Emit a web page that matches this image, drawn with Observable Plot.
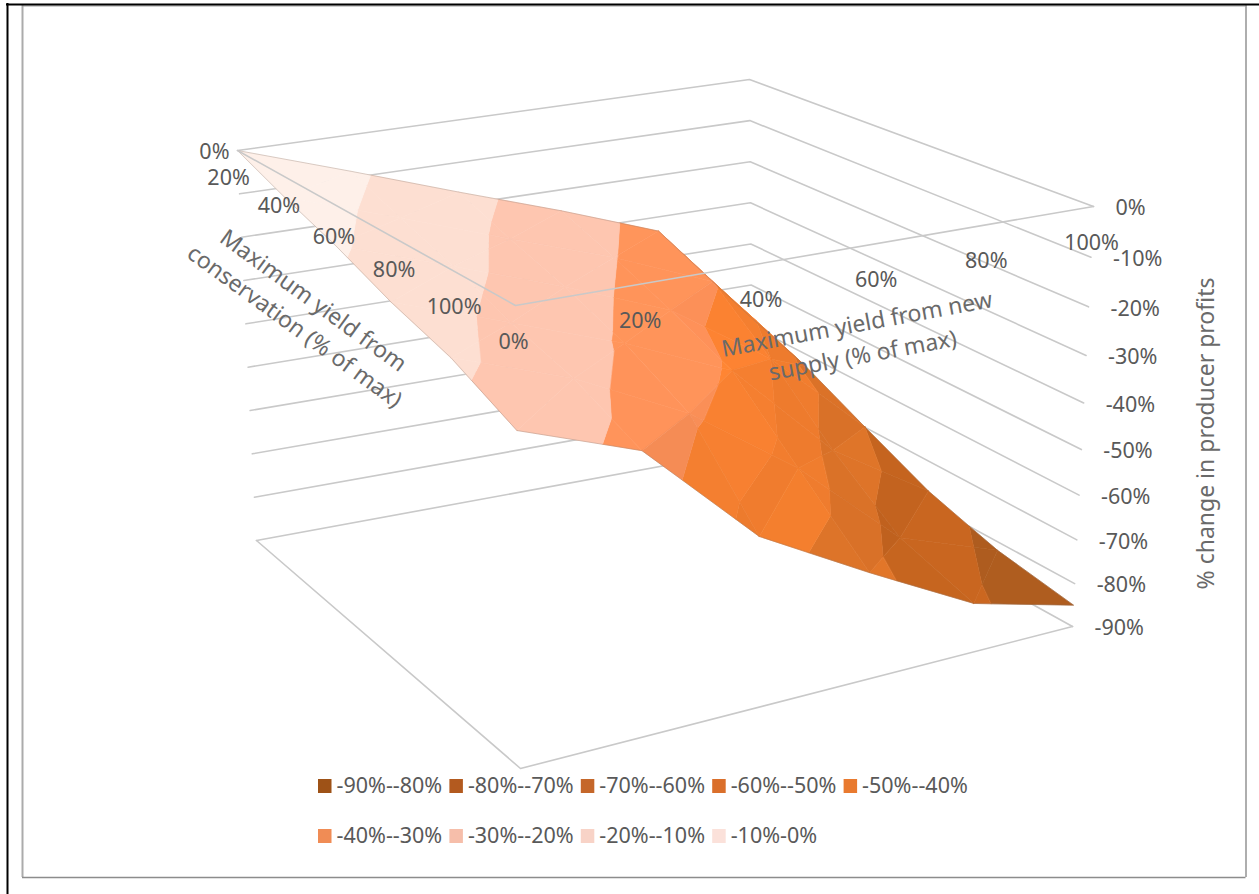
<!DOCTYPE html>
<html>
<head>
<meta charset="utf-8">
<style>
  html, body { margin: 0; padding: 0; background: #fff; }
  svg { display: block; }
</style>
<script src="https://cdn.jsdelivr.net/npm/d3@7"></script>
<script src="https://cdn.jsdelivr.net/npm/@observablehq/plot@0.6"></script>
</head>
<body>
<div id="chart"></div>
<script>
// Axis categories of the surface: share of maximum yield on each side.
const conservationLevels = [0, 20, 40, 60, 80, 100];
const supplyLevels = [0, 20, 40, 60, 80, 100];
const profitLevels = [0, -10, -20, -30, -40, -50, -60, -70, -80, -90];

// % change in producer profits; one row per conservation level, one column per supply level.
const profitAtConservation0 = [0, -8.5, -17, -25, -33.4, -58];
const profitAtConservation20 = [-4.7, -13.2, -21.7, -29.7, -39, -63];
const profitAtConservation40 = [-8.9, -17.4, -25.9, -35, -50, -70];
const profitAtConservation60 = [-14, -22.5, -31, -41, -63, -77];
const profitAtConservation80 = [-18, -26.5, -38, -54, -74, -82];
const profitAtConservation100 = [-24.3, -32.7, -54.5, -67, -79, -85];
const profitGrid = [
  profitAtConservation0, profitAtConservation20, profitAtConservation40,
  profitAtConservation60, profitAtConservation80, profitAtConservation100
];

// Colour bands of the surface, legend swatches and labels.
const bandLabels = ["-90%--80%", "-80%--70%", "-70%--60%", "-60%--50%", "-50%--40%", "-40%--30%", "-30%--20%", "-20%--10%", "-10%-0%"];
const bandLow = [-90, -80, -70, -60, -50, -40, -30, -20, -10];
const bandSurface = ["#aa5a1e", "#c5641f", "#e07529", "#f7802f", "#fe8432", "#ff9259", "#fec6b0", "#fddfd2", "#fef0e9"];
const bandSwatch = ["#9e5217", "#b35a1f", "#c5672a", "#da6f2b", "#e97a2f", "#f08c55", "#f6beaa", "#f8d3c7", "#fbe1da"];

// Screen corners of the perspective box, top plane and floor.
const cornerLeft = { top: [237, 150], floor: [256, 540] };   // conservation 0, supply 0
const cornerFront = { top: [515, 305], floor: [520, 768] };  // conservation 100, supply 0
const cornerRight = { top: [1093, 206], floor: [1072, 626] };// conservation 100, supply 100
const cornerBack = { top: [749, 79], floor: [752, 449] };    // conservation 0, supply 100
const foreshorten = { conservation: 1.25, supply: 0.89 };

const persp = (t, k) => t / (t + k * (1 - t));
const mix = (a, b, t) => [a[0] + (b[0] - a[0]) * t, a[1] + (b[1] - a[1]) * t];

// Projects conservation %, supply % and profit % to screen pixels.
function project(c, s, z) {
  const u = persp(c / 100, foreshorten.conservation);
  const v = persp(s / 100, foreshorten.supply);
  const w = persp(-z / 90, 1 - 0.09 * u * v);
  const top = mix(mix(cornerLeft.top, cornerFront.top, u), mix(cornerBack.top, cornerRight.top, u), v);
  const floor = mix(mix(cornerLeft.floor, cornerFront.floor, u), mix(cornerBack.floor, cornerRight.floor, u), v);
  return mix(top, floor, w);
}

// Clips a polygon of [c, s, z] vertices against one profit level.
function clipZ(poly, level, keepAbove) {
  const out = [];
  const inside = (p) => keepAbove ? p[2] >= level : p[2] <= level;
  poly.forEach((p, i) => {
    const q = poly[(i + 1) % poly.length];
    if (inside(p)) out.push(p);
    if (inside(p) !== inside(q)) {
      const t = (level - p[2]) / (q[2] - p[2]);
      out.push([p[0] + (q[0] - p[0]) * t, p[1] + (q[1] - p[1]) * t, level]);
    }
  });
  return out;
}

// Facet brightness from the slope of the triangle, as a soft light on the surface.
function facetShade(tri) {
  const [a, b, d] = tri;
  const ux = b[0] - a[0], uy = b[1] - a[1], uz = b[2] - a[2];
  const vx = d[0] - a[0], vy = d[1] - a[1], vz = d[2] - a[2];
  const nx = uy * vz - uz * vy, ny = uz * vx - ux * vz, nz = ux * vy - uy * vx;
  const len = Math.hypot(nx, ny, nz) || 1;
  const tilt = Math.abs(nz) / len;
  return (tilt - 0.8) * 0.55;
}

// Surface pieces, far cells first so nearer facets paint over them.
const surfaceRows = [];
let pieceId = 0;
conservationLevels.slice(0, -1).forEach((c0, i) => {
  for (let j = supplyLevels.length - 2; j >= 0; j--) {
    const c1 = conservationLevels[i + 1], s0 = supplyLevels[j], s1 = supplyLevels[j + 1];
    const a = [c0, s0, profitGrid[i][j]], b = [c0, s1, profitGrid[i][j + 1]];
    const d = [c1, s1, profitGrid[i + 1][j + 1]], e = [c1, s0, profitGrid[i + 1][j]];
    for (const tri of [[a, b, e], [b, d, e]]) {
      const shade = facetShade(tri);
      bandLow.forEach((low, k) => {
        const piece = clipZ(clipZ(tri, low, true), low + 10, false);
        if (piece.length < 3) return;
        const base = d3.rgb(bandSurface[k]);
        const amount = k >= 6 ? 0 : shade;
        const tone = amount >= 0 ? base.brighter(amount) : base.darker(-amount);
        const fill = tone.formatHex();
        pieceId++;
        for (const p of piece) {
          const [x, y] = project(p[0], p[1], p[2]);
          surfaceRows.push({ x, y, id: pieceId, fill });
        }
      });
    }
  }
});

// Thin rim around the surface.
const surfaceRim = [
  ...supplyLevels.map((s, j) => ({ c: 0, s, z: profitGrid[0][j], id: 0 })),
  ...conservationLevels.map((c, i) => ({ c, s: 100, z: profitGrid[i][5], id: 0 })),
  ...supplyLevels.map((s, j) => ({ c: 100, s, z: profitGrid[5][j], id: 0 })).reverse(),
  ...conservationLevels.map((c, i) => ({ c, s: 0, z: profitGrid[i][0], id: 0 })).reverse()
];

// Wall gridlines: each profit level runs along the back two walls of the box.
const wallRows = profitLevels.flatMap((z, i) => [
  { c: 0, s: 0, z, id: i }, { c: 0, s: 100, z, id: i }, { c: 100, s: 100, z, id: i }
]);
// Top and floor outlines at the front of the box.
const frontOutline = (z, id) => [
  { c: 0, s: 0, z, id }, { c: 100, s: 0, z, id }, { c: 100, s: 100, z, id }
];

const px = (d) => project(d.c, d.s, d.z)[0];
const py = (d) => project(d.c, d.s, d.z)[1];

const gridStyle = { x: px, y: py, z: "id", stroke: "#c9c9c9", strokeWidth: 1.6 };
const labelFont = { fontFamily: "'Noto Sans', sans-serif", fill: "#595959" };
const titleFont = { fontFamily: "'Noto Sans', sans-serif", fill: "#6a6a6a" };

const legendRows = bandLabels.map((label, i) => ({
  label, swatch: bandSwatch[i],
  col: i < 5 ? i : i - 5,
  row: i < 5 ? 0 : 1
}));
const legendLeft = (d) => 318 + d.col * 131.4;
const legendTop = (d) => 779 + d.row * 50;

const chart = Plot.plot({
  width: 1259,
  height: 894,
  margin: 0,
  axis: null,
  x: { type: "identity" },
  y: { type: "identity" },
  color: { type: "identity" },
  marks: [
    // Outer frame of the chart area.
    Plot.ruleX([22], { y1: 5, y2: 877, stroke: "#ababab", strokeWidth: 2 }),
    Plot.ruleX([1245.5], { y1: 5, y2: 877, stroke: "#8c8c8c", strokeWidth: 1.4 }),
    Plot.ruleY([877], { x1: 22, x2: 1245.5, stroke: "#8c8c8c", strokeWidth: 1.6 }),
    Plot.ruleY([5.5], { x1: 22, x2: 1245.5, stroke: "#a0a0a0", strokeWidth: 1.2 }),
    Plot.ruleX([7], { y1: 3, y2: 894, stroke: "#000", strokeWidth: 2 }),
    Plot.ruleY([4], { x1: 6, x2: 1259, stroke: "#000", strokeWidth: 2 }),

    // Walls and floor behind the surface.
    Plot.line(wallRows, gridStyle),
    Plot.line(frontOutline(-90, 0), gridStyle),

    // The surface itself.
    Plot.line(surfaceRows, {
      x: "x", y: "y", z: "id", fill: "fill", stroke: "fill", strokeWidth: 0.6, curve: "linear-closed"
    }),
    Plot.line(surfaceRim, { x: px, y: py, stroke: "#8a7468", strokeOpacity: 0.55, strokeWidth: 0.6 }),

    // Top outline passes in front of the surface.
    Plot.line(frontOutline(0, 0), gridStyle),

    // Tick labels on the three axes.
    Plot.text(conservationLevels, {
      x: (c) => project(c, 0, 0)[0] + (c === 0 ? -8 : -34), y: (c) => project(c, 0, 0)[1],
      text: (c) => `${c}%`, textAnchor: "end", dy: 2, fontSize: 21.5, ...labelFont
    }),
    Plot.text(supplyLevels, {
      x: (s) => project(100, s, 0)[0], y: (s) => project(100, s, 0)[1],
      text: (s) => `${s}%`, dx: -2, dy: 37, fontSize: 21.5, ...labelFont
    }),
    Plot.text(profitLevels, {
      x: (z) => project(100, 100, z)[0], y: (z) => project(100, 100, z)[1],
      text: (z) => `${z}%`, textAnchor: "start", dx: 22, dy: 2, fontSize: 21.5, ...labelFont
    }),

    // Axis titles.
    Plot.text(["Maximum yield from\nconservation (% of max)"], {
      x: () => 305, y: () => 311, rotate: 36, fontSize: 23, lineHeight: 1.38, ...titleFont
    }),
    Plot.text(["Maximum yield from new\nsupply (% of max)"], {
      x: () => 859, y: () => 337, rotate: -10.5, fontSize: 23, lineHeight: 1.38, ...titleFont
    }),
    Plot.text(["% change in producer profits"], {
      x: () => 1206, y: () => 433, rotate: -90, fontSize: 23, ...titleFont
    }),

    // Legend.
    Plot.rect(legendRows, {
      x1: legendLeft, x2: (d) => legendLeft(d) + 13.5,
      y1: legendTop, y2: (d) => legendTop(d) + 14, fill: "swatch"
    }),
    Plot.text(legendRows, {
      x: (d) => legendLeft(d) + 18, y: (d) => legendTop(d) + 7,
      text: "label", textAnchor: "start", fontSize: 21.5, ...labelFont
    })
  ]
});
document.getElementById("chart").appendChild(chart);
</script>
</body>
</html>
